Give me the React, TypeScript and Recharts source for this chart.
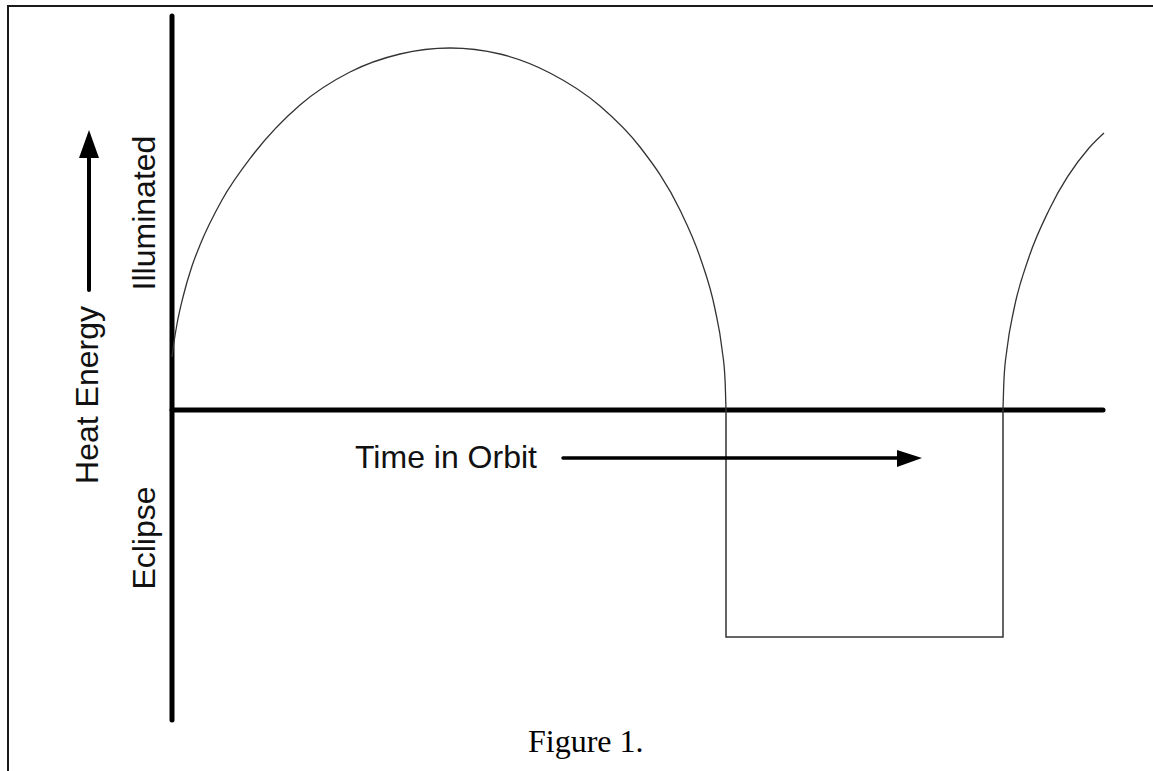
import { ComposedChart, Line, XAxis, YAxis, ReferenceLine } from "recharts";

// t = time in orbit (drawing units from the vertical axis), e = heat energy (above / below zero)
const dayArc = [
  { t: 0, e: 53 },
  { t: 2, e: 68 },
  { t: 5, e: 86 },
  { t: 11, e: 113 },
  { t: 20, e: 144 },
  { t: 28, e: 165 },
  { t: 50, e: 210 },
  { t: 80, e: 254 },
  { t: 128, e: 305 },
  { t: 178, e: 338 },
  { t: 228, e: 356 },
  { t: 278, e: 362 },
  { t: 328, e: 356 },
  { t: 378, e: 337 },
  { t: 428, e: 304 },
  { t: 468, e: 263 },
  { t: 508, e: 200 },
  { t: 528, e: 153 },
  { t: 543, e: 101 },
  { t: 550, e: 61 },
  { t: 553, e: 31 },
  { t: 554, e: 0 },
];

const eclipseStep = [
  { t: 554, e: 0 },
  { t: 554, e: -227 },
  { t: 831, e: -227 },
  { t: 831, e: 0 },
];

const nextArc = [
  { t: 831, e: 0 },
  { t: 832, e: 31 },
  { t: 835, e: 61 },
  { t: 842, e: 101 },
  { t: 857, e: 153 },
  { t: 877, e: 200 },
  { t: 917, e: 262 },
  { t: 932, e: 277 },
];

const T_MAX = 932;
const E_DOMAIN: [number, number] = [-310, 394];

const sans = "'Liberation Sans', Arial, sans-serif";

export default function App() {
  return (
    <div style={{ position: "absolute", left: 0, top: 0, width: 1153, height: 771, overflow: "hidden", background: "#fff" }}>
      <div
        style={{
          position: "absolute",
          left: 7,
          top: 5,
          width: 1200,
          height: 820,
          borderLeft: "2px solid #1a1a1a",
          borderTop: "2px solid #1a1a1a",
        }}
      />
      <div style={{ position: "absolute", left: 0, top: 0 }}>
        <ComposedChart width={1153} height={771} margin={{ top: 16, right: 49, bottom: 51, left: 172 }}>
          <XAxis dataKey="t" type="number" domain={[0, T_MAX]} hide />
          <YAxis type="number" domain={E_DOMAIN} hide />
          <ReferenceLine x={0} stroke="#000" strokeWidth={5} strokeLinecap="round" />
          <ReferenceLine
            segment={[{ x: 0, y: 0 }, { x: T_MAX - 1, y: 0 }]}
            stroke="#000"
            strokeWidth={5}
            strokeLinecap="round"
          />
          <Line data={dayArc} dataKey="e" type="monotone" stroke="#333" strokeWidth={1.3} dot={false} activeDot={false} isAnimationActive={false} />
          <Line data={eclipseStep} dataKey="e" type="linear" stroke="#333" strokeWidth={1.5} dot={false} activeDot={false} isAnimationActive={false} />
          <Line data={nextArc} dataKey="e" type="monotone" stroke="#333" strokeWidth={1.3} dot={false} activeDot={false} isAnimationActive={false} />
        </ComposedChart>
      </div>
      <svg width={1153} height={771} style={{ position: "absolute", left: 0, top: 0, pointerEvents: "none" }}>
        <g fontFamily={sans} fontSize={32} fill="#111">
          <text transform="translate(155, 213) rotate(-90)" textAnchor="middle">Illuminated</text>
          <text transform="translate(155, 538) rotate(-90)" textAnchor="middle">Eclipse</text>
          <text transform="translate(98, 395) rotate(-90)" textAnchor="middle">Heat Energy</text>
          <text x={355} y={468}>Time in Orbit</text>
        </g>
        <line x1={89} y1={290} x2={89} y2={150} stroke="#000" strokeWidth={4} strokeLinecap="round" />
        <polygon points="79,158 99,158 89,130" fill="#000" />
        <line x1={563} y1={458} x2={900} y2={458} stroke="#000" strokeWidth={3.5} strokeLinecap="round" />
        <polygon points="897,450 897,467 922,458" fill="#000" />
        <text x={528} y={752} fontFamily="'Liberation Serif', 'Times New Roman', serif" fontSize={32} fill="#000">
          Figure 1.
        </text>
      </svg>
    </div>
  );
}
